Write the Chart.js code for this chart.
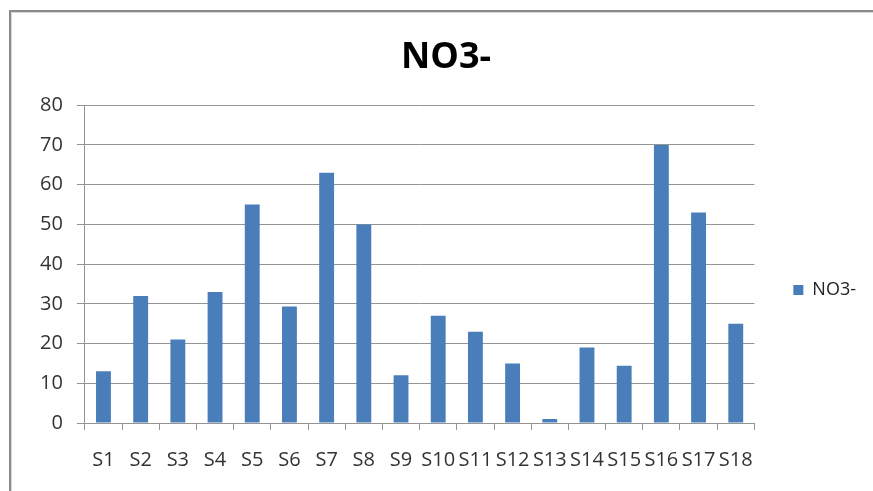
<!DOCTYPE html>
<html>
<head>
<meta charset="utf-8">
<title>NO3-</title>
<script src="https://cdn.jsdelivr.net/npm/chart.js@4/dist/chart.umd.min.js"></script>
<style>
  html, body { margin: 0; padding: 0; background: #ffffff; overflow: hidden; }
  #wrap { position: relative; width: 873px; height: 491px; }
  #frame {
    position: absolute; left: 9px; top: 10px; width: 900px; height: 520px;
    border-left: 2px solid #8a8a8a; border-top: 2px solid #8a8a8a;
    box-shadow: inset 1px 1px 0 #d8d8d8;
    pointer-events: none;
  }
  canvas { position: absolute; left: 0; top: 0; }
</style>
</head>
<body>
<div id="wrap">
  <div id="frame"></div>
  <canvas id="chart" width="873" height="491"></canvas>
</div>
<script>
// Sampling sites and measured nitrate values
const sites = ['S1','S2','S3','S4','S5','S6','S7','S8','S9','S10','S11','S12','S13','S14','S15','S16','S17','S18'];
const no3Values = [13, 32, 21, 33, 55, 29.3, 63, 50, 12, 27, 23, 15, 1, 19, 14.4, 70, 53, 25];
const seriesName = 'NO3-';
const yTicks = [0, 10, 20, 30, 40, 50, 60, 70, 80];

const FONT = "'Open Sans', 'DejaVu Sans', sans-serif";
const gridGray = '#949494';

new Chart(document.getElementById('chart'), {
  type: 'bar',
  data: {
    labels: sites,
    datasets: [{
      label: seriesName,
      data: no3Values,
      backgroundColor: '#4a7ebb',
      borderWidth: 0,
      categoryPercentage: 1.0,
      barPercentage: 0.4
    }]
  },
  options: {
    responsive: false,
    animation: false,
    devicePixelRatio: 1,
    layout: { padding: { left: 26, right: 7, top: 0, bottom: 1 } },
    plugins: {
      title: {
        display: true,
        text: seriesName,
        color: '#000000',
        font: { family: FONT, size: 36, weight: 'bold' },
        padding: { top: 36, bottom: 26 }
      },
      legend: {
        display: true,
        position: 'right',
        maxWidth: 113,
        // empty legend title used as a spacer to lower the single entry
        title: {
          display: true,
          text: ' ',
          font: { family: FONT, size: 1 },
          padding: { top: 0, bottom: 89 }
        },
        labels: {
          color: '#222222',
          font: { family: FONT, size: 18 },
          boxWidth: 10,
          boxHeight: 10,
          padding: 39
        }
      },
      tooltip: { enabled: false }
    },
    scales: {
      x: {
        grid: {
          offset: true,
          drawOnChartArea: false,
          drawTicks: true,
          tickLength: 7,
          color: gridGray,
          lineWidth: 1
        },
        border: { display: true, color: gridGray, width: 1 },
        ticks: {
          color: '#333333',
          font: { family: FONT, size: 20 },
          padding: 18,
          maxRotation: 0,
          minRotation: 0,
          autoSkip: false
        }
      },
      y: {
        min: 0,
        max: 80,
        afterBuildTicks: (axis) => { axis.ticks = yTicks.map(v => ({ value: v })); },
        grid: {
          drawTicks: true,
          tickLength: 8,
          color: gridGray,
          lineWidth: 1
        },
        border: { display: true, color: gridGray, width: 1 },
        ticks: {
          color: '#333333',
          font: { family: FONT, size: 20 },
          padding: 14
        }
      }
    }
  }
});
</script>
</body>
</html>
